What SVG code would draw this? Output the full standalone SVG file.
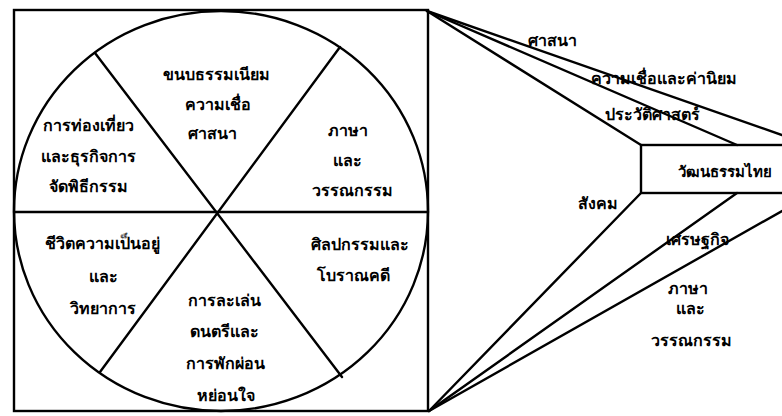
<svg xmlns="http://www.w3.org/2000/svg" width="782" height="416" viewBox="0 0 782 416">
<style>
.ln{stroke:#000;stroke-width:2.4;fill:none;stroke-linecap:round}
.t{font-family:"Noto Sans","DejaVu Sans","Liberation Sans",sans-serif;font-weight:bold;font-size:16px;fill:#000;text-anchor:middle}
.s{text-anchor:start;font-size:15px}
</style>
<rect width="782" height="416" fill="#fff"/>
<g id="connectors">
<line class="ln" x1="427" y1="11" x2="782" y2="135"/>
<line class="ln" x1="427" y1="11" x2="737" y2="145"/>
<line class="ln" x1="427" y1="11" x2="641" y2="145"/>
<line class="ln" x1="429" y1="411" x2="641" y2="193"/>
<line class="ln" x1="429" y1="411" x2="737" y2="193"/>
<line class="ln" x1="429" y1="411" x2="782" y2="211"/>
</g>
<g id="wheel">
<rect class="ln" x="14" y="10" width="414" height="401"/>
<ellipse class="ln" cx="221" cy="211" rx="207" ry="200"/>
<line class="ln" x1="14" y1="212" x2="428" y2="212"/>
<line class="ln" x1="95" y1="53" x2="342" y2="377"/>
<line class="ln" x1="340" y1="47" x2="100" y2="372"/>
</g>
<g id="seg-top">
<text class="t" x="216" y="80">ขนบธรรมเนียม</text>
<text class="t" x="218" y="110">ความเชื่อ</text>
<text class="t" x="212" y="139">ศาสนา</text>
</g>
<g id="seg-left">
<text class="t" x="88" y="131">การท่องเที่ยว</text>
<text class="t" x="88" y="162">และธุรกิจการ</text>
<text class="t" x="88" y="192">จัดพิธีกรรม</text>
</g>
<g id="seg-right">
<text class="t" x="348" y="136">ภาษา</text>
<text class="t" x="347" y="166">และ</text>
<text class="t" x="352" y="196">วรรณกรรม</text>
</g>
<g id="seg-bottom-left">
<text class="t" x="102" y="249">ชีวิตความเป็นอยู่</text>
<text class="t" x="103" y="282">และ</text>
<text class="t" x="103" y="314">วิทยาการ</text>
</g>
<g id="seg-bottom-right">
<text class="t" x="360" y="250">ศิลปกรรมและ</text>
<text class="t" x="353" y="281">โบราณคดี</text>
</g>
<g id="seg-bottom">
<text class="t" x="224" y="306">การละเล่น</text>
<text class="t" x="224" y="337">ดนตรีและ</text>
<text class="t" x="225" y="369">การพักผ่อน</text>
<text class="t" x="226" y="401">หย่อนใจ</text>
</g>
<g id="thai-culture">
<rect class="ln" x="641" y="145" width="160" height="48"/>
<text class="t s" x="678" y="177">วัฒนธรรมไทย</text>
</g>
<g id="labels">
<text class="t" x="552" y="46">ศาสนา</text>
<text class="t" x="664" y="84">ความเชื่อและค่านิยม</text>
<text class="t" x="652" y="120">ประวัติศาสตร์</text>
<text class="t" x="598" y="209">สังคม</text>
<text class="t" x="697" y="245">เศรษฐกิจ</text>
<text class="t" x="688" y="294">ภาษา</text>
<text class="t" x="690" y="314">และ</text>
<text class="t" x="691" y="346">วรรณกรรม</text>
</g>
</svg>
